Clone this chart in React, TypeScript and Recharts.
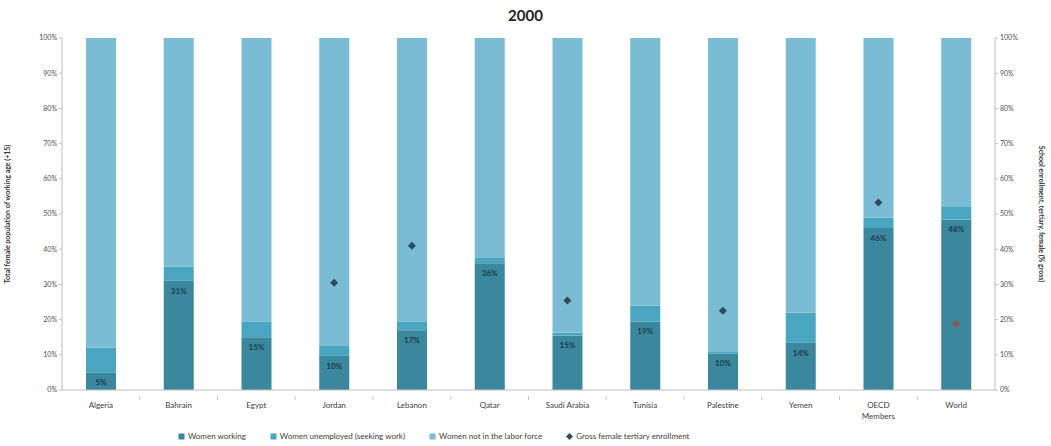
import React from "react";
import {
  ComposedChart,
  Bar,
  Scatter,
  XAxis,
  YAxis,
  LabelList,
  Cell,
  Legend,
} from "recharts";

const countries = [
  "Algeria", "Bahrain", "Egypt", "Jordan", "Lebanon", "Qatar",
  "Saudi Arabia", "Tunisia", "Palestine", "Yemen", "OECD Members", "World",
];
const working = [5, 31, 15, 9.7, 17, 36, 15.5, 19.4, 10.3, 13.4, 46, 48.4];
const unemployed = [7, 4, 4.5, 3, 2.5, 1.5, 0.8, 4.6, 0.5, 8.6, 3, 3.6];
const notInLabor = [88, 65, 80.5, 87.3, 80.5, 62.5, 83.7, 76, 89.2, 78, 51, 48];
const workingLabels = ["5%", "31%", "15%", "10%", "17%", "36%", "15%", "19%", "10%", "14%", "46%", "48%"];
const enrollment = [null, null, null, 30.5, 41, null, 25.4, null, 22.5, null, 53.3, 18.8];
const pctTicks = [0, 10, 20, 30, 40, 50, 60, 70, 80, 90, 100];

const C_WORK = "#3a879e";
const C_UNEMP = "#4aa6c0";
const C_NOT = "#7bbcd5";
const C_DOT = "#2f4a5a";
const C_DOT_WORLD = "#8a5a50";
const FONT = "Lato, 'Open Sans', sans-serif";

const data = countries.map((c, i) => ({
  name: c,
  working: working[i],
  unemployed: unemployed[i],
  notInLabor: notInLabor[i],
  label: workingLabels[i],
  enrollment: enrollment[i],
}));

const Diamond = (props: any) => {
  const { cx, cy, fill } = props;
  if (cx == null || cy == null || props.payload?.enrollment == null) return null;
  const r = 4;
  return <path d={`M${cx},${cy - r}L${cx + r},${cy}L${cx},${cy + r}L${cx - r},${cy}Z`} fill={fill} />;
};

const CatTick = (props: any) => {
  const { x, y, payload, index } = props;
  const words = payload.value === "OECD Members" ? ["OECD", "Members"] : [payload.value];
  return (
    <g>
      {index < countries.length - 1 && (
        <line x1={x + 38.9} x2={x + 38.9} y1={y - 2} y2={y + 2} stroke="#c8c8c8" />
      )}
      <text x={x} y={y + 10} textAnchor="middle" fontSize={8} fill="#404040" fontFamily={FONT}>
        {words.map((w, i) => (
          <tspan key={i} x={x} dy={i === 0 ? 0 : 11}>{w}</tspan>
        ))}
      </text>
    </g>
  );
};

const legendItems = [
  { label: "Women working", color: C_WORK, shape: "square" },
  { label: "Women unemployed (seeking work)", color: C_UNEMP, shape: "square" },
  { label: "Women not in the labor force", color: C_NOT, shape: "square" },
  { label: "Gross female tertiary enrollment", color: C_DOT, shape: "diamond" },
];

const LegendContent = () => (
  <div style={{ display: "flex", justifyContent: "flex-start", gap: 24, fontFamily: FONT, fontSize: 8, color: "#404040", paddingLeft: 178, paddingTop: 5 }}>
    {legendItems.map((it) => (
      <span key={it.label} style={{ display: "flex", alignItems: "center", gap: 3 }}>
        <svg width={7} height={7}>
          {it.shape === "square" ? (
            <rect x={0.5} y={0.5} width={6} height={6} fill={it.color} />
          ) : (
            <path d="M3.5,0L7,3.5L3.5,7L0,3.5Z" fill={it.color} />
          )}
        </svg>
        {it.label}
      </span>
    ))}
  </div>
);

export default function App() {
  return (
    <div style={{ position: "absolute", left: 0, top: 0, width: 1051, height: 446, background: "#fff" }}>
      <div style={{ position: "absolute", top: 6, width: 1051, textAlign: "center", fontFamily: FONT, fontWeight: 700, fontSize: 15, color: "#222" }}>
        2000
      </div>
      <ComposedChart
        width={1051}
        height={446}
        data={data}
        margin={{ top: 38, right: 6, bottom: 0, left: 4 }}
        barCategoryGap="0%"
      >
        <XAxis
          dataKey="name"
          tick={<CatTick />}
          tickLine={false}
          axisLine={{ stroke: "#bfbfbf" }}
          interval={0}
          height={36}
        />
        <YAxis
          yAxisId="left"
          domain={[0, 100]}
          ticks={pctTicks}
          tickFormatter={(v) => `${v}%`}
          width={58}
          tick={{ fontSize: 7, fill: "#505050", fontFamily: FONT }}
          tickLine={{ stroke: "#bfbfbf" }}
          tickSize={3}
          axisLine={{ stroke: "#bfbfbf" }}
          label={{
            value: "Total female population of working age (+15)",
            angle: -90,
            position: "insideLeft",
            offset: 4,
            style: { fontSize: 7, fill: "#333", fontWeight: 700, fontFamily: FONT, textAnchor: "middle" },
          }}
        />
        <YAxis
          yAxisId="right"
          orientation="right"
          domain={[0, 100]}
          ticks={pctTicks}
          tickFormatter={(v) => `${v}%`}
          width={50}
          tick={{ fontSize: 7, fill: "#505050", fontFamily: FONT }}
          tickLine={{ stroke: "#bfbfbf" }}
          tickSize={3}
          axisLine={{ stroke: "#bfbfbf" }}
          label={{
            value: "School enrollment, tertiary, female (% gross)",
            angle: 90,
            position: "insideRight",
            offset: 4,
            style: { fontSize: 7, fill: "#333", fontWeight: 700, fontFamily: FONT, textAnchor: "middle" },
          }}
        />
        <Legend
          verticalAlign="bottom"
          height={20}
          content={<LegendContent />}
          wrapperStyle={{ left: 0, width: 1051 }}
        />
        <Bar yAxisId="left" dataKey="working" stackId="a" fill={C_WORK} barSize={30} isAnimationActive={false}>
          <LabelList
            dataKey="label"
            position="insideTop"
            offset={7}
            style={{ fontSize: 8, fill: "#1f3a4a", fontWeight: 700, fontFamily: FONT }}
          />
        </Bar>
        <Bar yAxisId="left" dataKey="unemployed" stackId="a" fill={C_UNEMP} barSize={30} isAnimationActive={false} />
        <Bar yAxisId="left" dataKey="notInLabor" stackId="a" fill={C_NOT} barSize={30} isAnimationActive={false} />
        <Scatter yAxisId="right" dataKey="enrollment" shape={<Diamond />} isAnimationActive={false}>
          {data.map((d, i) => (
            <Cell key={i} fill={d.name === "World" ? C_DOT_WORLD : C_DOT} />
          ))}
        </Scatter>
      </ComposedChart>
    </div>
  );
}
